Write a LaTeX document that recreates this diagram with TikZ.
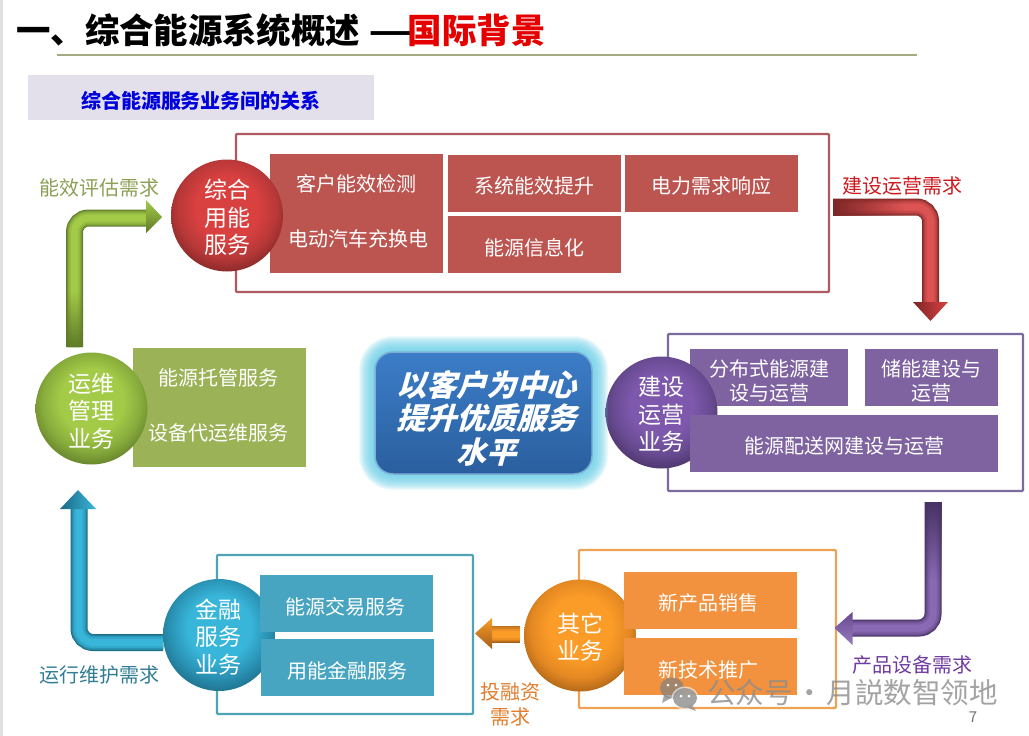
\documentclass[tikz,border=0pt]{standalone}
\usepackage{fontspec}
\setmainfont{Noto Sans CJK SC}
\newfontfamily\slantcjk[FakeSlant=0.28,BoldFeatures={FakeSlant=0.28}]{Noto Sans CJK SC}
\usetikzlibrary{calc,fadings}
\definecolor{redbox}{HTML}{BC5450}
\definecolor{redframe}{HTML}{AF5A60}
\definecolor{purbox}{HTML}{7F63A1}
\definecolor{purframe}{HTML}{7B6A9E}
\definecolor{grnbox}{HTML}{9BB356}
\definecolor{telbox}{HTML}{48A5C2}
\definecolor{telframe}{HTML}{4FA3B5}
\definecolor{orgbox}{HTML}{F2923F}
\definecolor{orgframe}{HTML}{EFA155}
\definecolor{a1}{HTML}{D94040}\definecolor{a2}{HTML}{B93838}\definecolor{a3}{HTML}{7E2626}
\definecolor{b1}{HTML}{7D58AC}\definecolor{b2}{HTML}{674A90}\definecolor{b3}{HTML}{473264}
\definecolor{c1}{HTML}{A4CB48}\definecolor{c2}{HTML}{88AC3C}\definecolor{c3}{HTML}{5E7A28}
\definecolor{d1}{HTML}{38B6DA}\definecolor{d2}{HTML}{2A92B4}\definecolor{d3}{HTML}{1C6A84}
\definecolor{e1}{HTML}{FB9C28}\definecolor{e2}{HTML}{E48822}\definecolor{e3}{HTML}{A45E18}
\newcommand\declball[4]{\pgfdeclareradialshading{#1}{\pgfpoint{0bp}{4bp}}{color(0bp)=(#2);color(14bp)=(#2);color(22bp)=(#3);color(30bp)=(#4);color(100bp)=(#4)}}
\declball{ballred}{a1}{a2}{a3}
\declball{ballpur}{b1}{b2}{b3}
\declball{ballgrn}{c1}{c2}{c3}
\declball{balltel}{d1}{d2}{d3}
\declball{ballorg}{e1}{e2}{e3}
\newcommand\tube[3]{\foreach \w/\m in {17/0,15.5/30,13.5/55,11/80,7/100}{\draw[color={#2!\m!#1},line width=\w pt,rounded corners=14pt] #3;}}
\newcommand\arrowhead[5]{\shade[#4,#5] #1 -- #2 -- #3 -- cycle;}
\tikzset{
 frame/.style={line width=2.4pt,fill=white,rounded corners=1pt},
 ball/.style={circle,minimum size=112pt,inner sep=0pt},
 balltxt/.style={inner sep=0pt,text=white,align=center,font=\fontsize{23}{27.5}\selectfont},
 bx/.style={minimum width=173pt,minimum height=57pt,inner sep=0pt},
 txt/.style={inner sep=0pt,text=white,align=center,font=\fontsize{20}{24}\selectfont},
 lbl/.style={inner sep=0pt,align=center,font=\fontsize{20}{25}\selectfont}
}
\begin{document}
\begin{tikzpicture}[x=1pt,y=-1pt]
\useasboundingbox (0,0) rectangle (1029,736);
\fill[white] (0,0) rectangle (1029,736);
\fill[black!12] (0,0) rectangle (3,736);
% title
\node[inner sep=0pt,anchor=west,font=\bfseries\fontsize{34.4}{40}\selectfont] (title) at (16,30) {一、综合能源系统概述 \scalebox{1.55}[1]{—}\kern-9pt\textcolor{red!90!black}{国际背景}};
\coordinate (ruleA) at (57,55);
\coordinate (ruleB) at (917,55);
\draw[line width=1.6pt,color={rgb,255:red,165;green,170;blue,130}] (ruleA) -- (ruleB);
\node[minimum width=346pt,minimum height=45pt,inner sep=0pt,fill={rgb,255:red,227;green,224;blue,236}] (sub) at (201,97.5) {};
\node[inner sep=0pt,text={rgb,255:red,0;green,0;blue,220},font=\bfseries\fontsize{20}{24}\selectfont] (subt) at (201,101) {综合能源服务业务间的关系};
% frames
\draw[frame,draw=redframe] (236,134) rectangle (829,292);
\draw[frame,draw=purframe] (668,334) rectangle (1023,491);
\draw[frame,draw=telframe] (217,555) rectangle (473,714);
\draw[frame,draw=orgframe] (579,550) rectangle (836,708);
% red group
\node[bx,fill=redbox,minimum height=119pt] (r1) at (356.5,213.5) {};
\node[ball,shade,shading=ballred] (rc) at (227,215.5) {};
\node[balltxt] (rct) at (227,217.5) {综合\\用能\\服务};
\node[txt] (r1a) at (356,184) {客户能效检测};
\node[txt] (r1b) at (358,239) {电动汽车充换电};
\node[bx,fill=redbox] (r2) at (534,183.5) {};
\node[bx,fill=redbox] (r3) at (711,183.5) {};
\node[bx,fill=redbox] (r4) at (534,244.5) {};
\node[txt] (r2t) at (534,186) {系统能效提升};
\node[txt] (r3t) at (711,186) {电力需求响应};
\node[txt] (r4t) at (534,248) {能源信息化};
% purple group
\node[bx,fill=purbox,minimum width=158pt] (p1) at (769,377.5) {};
\node[ball,shade,shading=ballpur] (pc) at (661.5,412.5) {};
\node[balltxt] (pct) at (661.5,414.5) {建设\\运营\\业务};
\node[bx,fill=purbox,minimum width=133pt] (p2) at (931.5,377.5) {};
\node[bx,fill=purbox,minimum width=308pt] (p3) at (844,443.5) {};
\node[txt] (p1t) at (769,381) {分布式能源建\\设与运营};
\node[txt] (p2t) at (931,381) {储能建设与\\运营};
\node[txt] (p3t) at (844,446) {能源配送网建设与运营};
% green group
\node[bx,fill=grnbox,minimum height=119pt] (g1) at (219,407.5) {};
\node[ball,shade,shading=ballgrn] (gc) at (91.5,408.5) {};
\node[balltxt] (gct) at (91.5,411) {运维\\管理\\业务};
\node[txt] (g1a) at (218,378) {能源托管服务};
\node[txt] (g1b) at (218,433) {设备代运维服务};
% teal group
\node[ball,shade,shading=balltel] (tc) at (219,635) {};
\node[balltxt] (tct) at (218,637) {金融\\服务\\业务};
\node[bx,fill=telbox] (t1) at (346,603.5) {};
\node[bx,fill=telbox] (t2) at (347,667.5) {};
\node[txt] (t1t) at (345,607) {能源交易服务};
\node[txt] (t2t) at (347,671) {用能金融服务};
% orange group
\node[ball,shade,shading=ballorg] (oc) at (580,635.5) {};
\node[balltxt] (oct) at (580,637) {其它\\业务};
\node[bx,fill=orgbox] (o1) at (710,600.5) {};
\node[bx,fill=orgbox] (o2) at (710,666.5) {};
\node[txt] (o1t) at (708.5,603) {新产品销售};
\node[txt] (o2t) at (708.5,670) {新技术推广};
% centre
\foreach \g in {16,15,...,1}{
 \fill[color={rgb,255:red,110;green,210;blue,235},opacity=.11,rounded corners=18pt+\g pt] ($(375,352)+(-\g,-\g)$) rectangle ($(592,474)+(\g,\g)$);}
\shade[top color={rgb,255:red,60;green,125;blue,200},bottom color={rgb,255:red,42;green,95;blue,158},draw={rgb,255:red,125;green,175;blue,215},line width=1.5pt,rounded corners=18pt] (375,352) rectangle (592,474);
\node[inner sep=0pt,text=white,align=center,font=\slantcjk\bfseries\fontsize{30}{33.5}\selectfont] (core) at (486,418) {以客户为中心\\提升优质服务\\水平};
% arrows
\coordinate (gA) at (74.5,347);\coordinate (gB) at (74.5,218);\coordinate (gC) at (148,218);
\tube{c3}{c1}{(gA) -- (gB) -- (gC)}
\fill[c3,path fading=north] (66,347) rectangle (83,290);
\coordinate (gH1) at (146,200);\coordinate (gH2) at (162,217);\coordinate (gH3) at (146,233);
\arrowhead{(gH1)}{(gH2)}{(gH3)}{top color=c1}{bottom color=c3}
\coordinate (rA) at (833,207);\coordinate (rB) at (930.5,207);\coordinate (rC) at (930.5,304);
\tube{a3}{a1!90!white}{(rA) -- (rB) -- (rC)}
\fill[a3,path fading=east] (833,198.5) rectangle (905,215.5);
\coordinate (rH1) at (913,302);\coordinate (rH2) at (930.5,321);\coordinate (rH3) at (948,302);
\arrowhead{(rH1)}{(rH2)}{(rH3)}{left color=a3}{right color=a1}
\coordinate (pA) at (933,502);\coordinate (pB) at (933,628);\coordinate (pC) at (851,628);
\tube{b3}{b1!90!white}{(pA) -- (pB) -- (pC)}
\fill[b3,path fading=south] (924.5,502) rectangle (941.5,580);
\coordinate (pH1) at (852.5,612);\coordinate (pH2) at (834.5,628);\coordinate (pH3) at (852.5,645);
\arrowhead{(pH1)}{(pH2)}{(pH3)}{top color=b2}{bottom color=b1!80!white}
\coordinate (tA) at (163,642.5);\coordinate (tB) at (79,642.5);\coordinate (tC) at (79,507);
\tube{d3}{d1}{(tA) -- (tB) -- (tC)}
\coordinate (tH1) at (60,509);\coordinate (tH2) at (78,490);\coordinate (tH3) at (96,509);
\arrowhead{(tH1)}{(tH2)}{(tH3)}{left color=d3}{right color=d1}
\coordinate (oA) at (520,634);\coordinate (oB) at (490,634);
\tube{e3}{e1}{(oA) -- (oB)}
\coordinate (oH1) at (492,618);\coordinate (oH2) at (475,633.5);\coordinate (oH3) at (492,649);
\arrowhead{(oH1)}{(oH2)}{(oH3)}{top color=e1}{bottom color=e3}
% labels
\node[lbl,text={rgb,255:red,140;green,160;blue,85}] (l1) at (99,188) {能效评估需求};
\node[lbl,text={rgb,255:red,205;green,25;blue,30}] (l2) at (902,186) {建设运营需求};
\node[lbl,text={rgb,255:red,112;green,60;blue,160}] (l3) at (912,665) {产品设备需求};
\node[lbl,text={rgb,255:red,50;green,125;blue,150}] (l4) at (99,675) {运行维护需求};
\node[lbl,text={rgb,255:red,225;green,125;blue,45}] (l5) at (510,704.5) {投融资\\需求};
% watermark
\fill[black!50,opacity=.7] (672,688) ellipse (12 and 10.5);
\fill[black!50,opacity=.7] (664,695) -- (662,703) -- (671,698) -- cycle;
\fill[white,opacity=.6] (685,698) ellipse (13.5 and 11.5);
\fill[black!42,opacity=.85] (685,698) ellipse (12 and 10);
\fill[black!42,opacity=.85] (692,705) -- (696,711) -- (686,707) -- cycle;
\fill[white] (681,696) circle (1.5) (689,696) circle (1.5);
\fill[white] (668,685) circle (1.5) (676,685) circle (1.5);
\node[inner sep=0pt,anchor=west,text=black!45,opacity=.8,font=\fontsize{28.5}{32}\selectfont] (wm) at (707,693) {公众号\kern-3.5pt{} · \kern-3.5pt{}月説数智领地};
\node[inner sep=0pt,text=black!55,font=\fontsize{15}{18}\selectfont] (pg) at (973,717) {7};
\end{tikzpicture}
\end{document}
